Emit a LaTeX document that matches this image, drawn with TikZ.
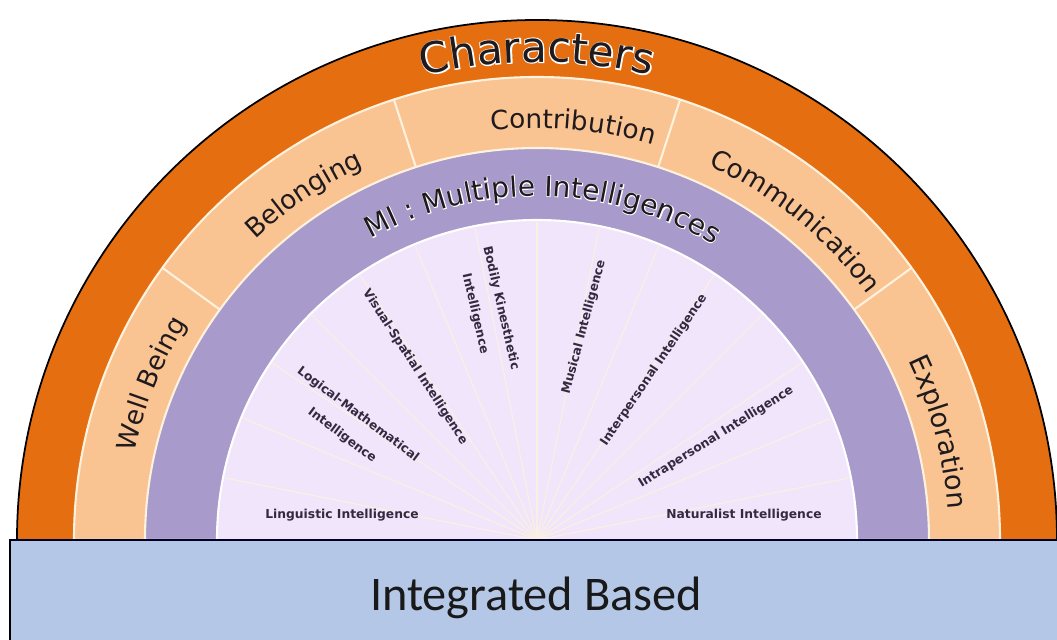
\documentclass[tikz,border=0pt]{standalone}
\usepackage{fontspec}
\usepackage{tikz}
\usetikzlibrary{decorations.text}
\newfontfamily\arcfont{DejaVu Sans}
\newfontfamily\halofont{DejaVu Sans}[FakeBold=5]
\newfontfamily\basefont{Carlito}
\definecolor{charorange}{RGB}{229,110,16}
\definecolor{ringpeach}{RGB}{250,195,146}
\definecolor{mipurple}{RGB}{168,154,203}
\definecolor{milavender}{RGB}{240,229,250}
\definecolor{basefill}{RGB}{180,199,230}
\definecolor{cream}{RGB}{253,242,222}
\definecolor{inktext}{RGB}{30,26,30}
\definecolor{smallink}{RGB}{52,42,64}

\begin{document}
\begin{tikzpicture}[x=0.02cm, y=0.02cm,
    milabel/.style={font=\arcfont\bfseries\fontsize{7pt}{15pt}\selectfont, text=smallink, align=center, inner sep=0pt}]
        \useasboundingbox (-537,-99) rectangle (520,540);
        % Characters (outer half ring)
        \fill[charorange] (-520,0) arc[start angle=180, end angle=0, radius=520] -- cycle;
        \draw[line width=1pt] (-520,0) arc[start angle=180, end angle=0, radius=520];
        % 5 C's ring
        \filldraw[fill=ringpeach, draw=cream, line width=1.2pt] (-463,0) arc[start angle=180, end angle=0, radius=463] -- cycle;
        \foreach \a in {36,72,108,144}
            \draw[cream, line width=1.2pt] (\a:392) -- (\a:463);
        % MI ring
        \filldraw[fill=mipurple, draw=cream, line width=1.2pt] (-392,0) arc[start angle=180, end angle=0, radius=392] -- cycle;
        \filldraw[fill=milavender, draw=white, line width=1.2pt] (-320,0) arc[start angle=180, end angle=0, radius=320] -- cycle;
        \foreach \a in {11.25,22.5,...,170}
            \draw[cream!80!milavender, line width=0.7pt] (0,0) -- (\a:318);

        % arc texts
        \path[decorate, decoration={text along path, text align=center, text color=white,
            text={|\halofont\fontsize{24pt}{24pt}\selectfont|Characters}}]
            (130:478) arc[start angle=130, end angle=50, radius=478];
        \path[decorate, decoration={text along path, text align=center, text color=inktext,
            text={|\arcfont\fontsize{24pt}{24pt}\selectfont|Characters}}]
            (130:478) arc[start angle=130, end angle=50, radius=478];
        \path[decorate, decoration={text along path, text align=center, text color=inktext,
            text={|\arcfont\fontsize{15pt}{15pt}\selectfont|Well Being}}]
            (180:412) arc[start angle=180, end angle=136, radius=412];
        \path[decorate, decoration={text along path, text align=center, text color=inktext,
            text={|\arcfont\fontsize{15pt}{15pt}\selectfont|Belonging}}]
            (146:412) arc[start angle=146, end angle=102, radius=412];
        \path[decorate, decoration={text along path, text align=center, text color=inktext,
            text={|\arcfont\fontsize{15pt}{15pt}\selectfont|Contribution}}]
            (110:412) arc[start angle=110, end angle=60, radius=412];
        \path[decorate, decoration={text along path, text align=center, text color=inktext,
            text={|\arcfont\fontsize{15pt}{15pt}\selectfont|Communication}}]
            (80:412) arc[start angle=80, end angle=22, radius=412];
        \path[decorate, decoration={text along path, text align=center, text color=inktext,
            text={|\arcfont\fontsize{15.5pt}{15.5pt}\selectfont|Exploration}}]
            (39:412) arc[start angle=39, end angle=-9, radius=412];
        \path[decorate, decoration={text along path, text align=center, text color=white,
            text={|\halofont\fontsize{16pt}{16pt}\selectfont|MI : Multiple Intelligences}}]
            (130:344) arc[start angle=130, end angle=48, radius=344];
        \path[decorate, decoration={text along path, text align=center, text color=inktext,
            text={|\arcfont\fontsize{16pt}{16pt}\selectfont|MI : Multiple Intelligences}}]
            (130:344) arc[start angle=130, end angle=48, radius=344];

        % intelligences
        \node[milabel] (linguistic) at (-195,25) {Linguistic Intelligence};
        \node[milabel, rotate=-37] (logical) at (-187,115) {Logical-Mathematical\\Intelligence};
        \node[milabel, rotate=-57] (visual) at (-122,173) {Visual-Spatial Intelligence};
        \node[milabel, rotate=-77] (bodily) at (-49,229) {Bodily Kinesthetic\\Intelligence};
        \node[milabel, rotate=75] (musical) at (47,213) {Musical Intelligence};
        \node[milabel, rotate=56] (interpersonal) at (117,170) {Interpersonal Intelligence};
        \node[milabel, rotate=32] (intrapersonal) at (179,103) {Intrapersonal Intelligence};
        \node[milabel] (naturalist) at (207,25) {Naturalist Intelligence};

        % Integrated Based
        \fill[basefill] (-527,-110) rectangle (530,0);
        \draw[line width=1pt] (-527,-110) -- (-527,0);
        \draw[black!85!blue, line width=1.6pt] (-528,0) -- (530,0);
        \node[font=\basefont\fontsize{27.5pt}{27.5pt}\selectfont, text=black!90, anchor=base] (base) at (-1,-70) {Integrated Based};
    \end{tikzpicture}
\end{document}
